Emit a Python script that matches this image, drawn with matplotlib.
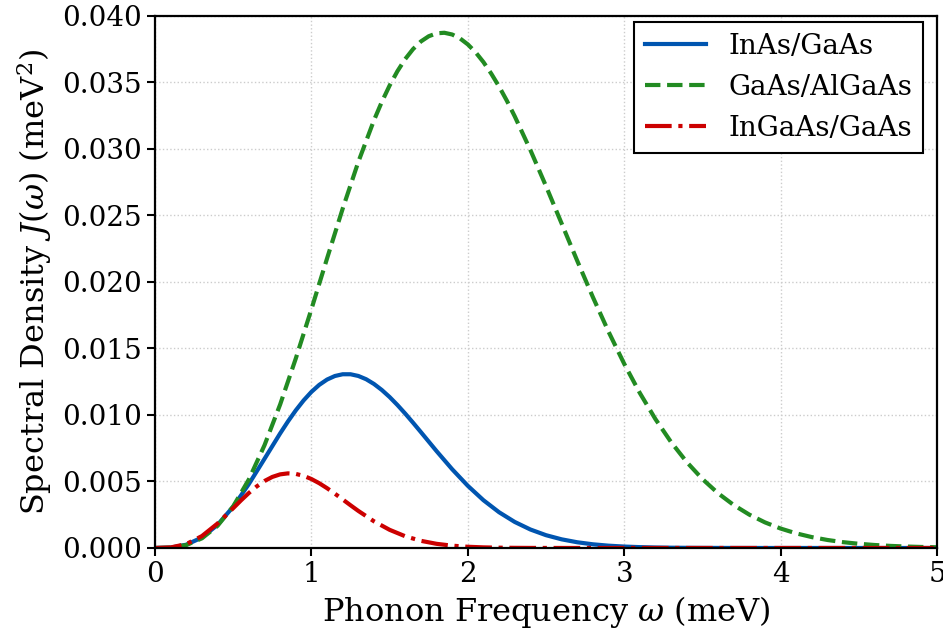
import matplotlib
matplotlib.use("Agg")
import matplotlib.pyplot as plt
from matplotlib.ticker import FormatStrFormatter

plt.rcParams['font.family'] = 'DejaVu Serif'
plt.rcParams['mathtext.fontset'] = 'dejavuserif'

# phonon frequency grid (meV), read every 0.1 meV
omega = [i / 10 for i in range(51)]

# spectral densities J(omega) in meV^2
j_inas = [
    0.0, 0.00003, 0.000245, 0.000787, 0.00174, 0.003105, 0.004807, 0.006703,
    0.008612, 0.010345, 0.011735, 0.012661, 0.01306, 0.012932, 0.01233,
    0.011348, 0.0101, 0.008711, 0.007285, 0.005919, 0.004674, 0.003591,
    0.002686, 0.001957, 0.00139, 0.000962, 0.00065, 0.000429, 0.000276,
    0.000173, 0.000106, 0.000064, 0.000037, 0.000021, 0.000012, 0.000007,
    0.000004, 0.000002, 0.000001, 0.0, 0.0, 0.0, 0.0, 0.0, 0.0, 0.0, 0.0,
    0.0, 0.0, 0.0, 0.0,
]
j_gaas = [
    0.0, 0.000028, 0.00022, 0.000726, 0.001669, 0.003132, 0.005154, 0.007725,
    0.010787, 0.014241, 0.017953, 0.021766, 0.025512, 0.029027, 0.032154,
    0.034765, 0.03676, 0.038078, 0.03869, 0.038602, 0.037858, 0.036526,
    0.034689, 0.032453, 0.029921, 0.027204, 0.024393, 0.021582, 0.018852,
    0.016258, 0.013847, 0.01165, 0.009684, 0.007956, 0.006461, 0.005186,
    0.004116, 0.003231, 0.002507, 0.001925, 0.001462, 0.001098, 0.000817,
    0.000601, 0.000436, 0.000315, 0.000225, 0.000158, 0.000111, 0.000076,
    0.000052,
]
j_ingaas = [
    0.0, 0.000039, 0.000294, 0.000897, 0.001842, 0.002994, 0.004134, 0.005035,
    0.005534, 0.005569, 0.005183, 0.004495, 0.003649, 0.002786, 0.002005,
    0.001365, 0.00088, 0.000538, 0.000313, 0.000173, 0.000091, 0.000046,
    0.000022, 0.00001, 0.000004, 0.000002, 0.000001, 0.0, 0.0, 0.0, 0.0,
    0.0, 0.0, 0.0, 0.0, 0.0, 0.0, 0.0, 0.0, 0.0, 0.0, 0.0, 0.0, 0.0, 0.0,
    0.0, 0.0, 0.0, 0.0, 0.0, 0.0,
]

# extra readings around each peak, halfway between grid points
omega_inas_peak = [0.85, 0.95, 1.05, 1.15, 1.25, 1.35, 1.45, 1.55, 1.65]
j_inas_peak = [0.009512, 0.011092, 0.012262, 0.012928, 0.01306, 0.012686,
               0.011879, 0.010748, 0.009416]
omega_gaas_peak = [1.45, 1.55, 1.65, 1.75, 1.85, 1.95, 2.05, 2.15, 2.25]
j_gaas_peak = [0.033532, 0.035843, 0.037507, 0.03847, 0.038732, 0.038309,
               0.037262, 0.035658, 0.033616]
omega_ingaas_peak = [0.55, 0.65, 0.75, 0.85, 0.95, 1.05, 1.15, 1.25]
j_ingaas_peak = [0.003581, 0.004626, 0.005341, 0.005609, 0.005423, 0.004868,
                 0.004083, 0.003212]

labels = ['InAs/GaAs', 'GaAs/AlGaAs', 'InGaAs/GaAs']
colors = ['#0055B0', '#228B22', '#CC0000']
styles = ['-', '--', '-.']

series = [
    (j_inas, omega_inas_peak, j_inas_peak),
    (j_gaas, omega_gaas_peak, j_gaas_peak),
    (j_ingaas, omega_ingaas_peak, j_ingaas_peak),
]

fig, ax = plt.subplots(figsize=(9.43, 6.36), dpi=100)
fig.subplots_adjust(left=0.1644, right=0.9936, top=0.975, bottom=0.1384)

for (ys, xp, yp), lab, c, ls in zip(series, labels, colors, styles):
    pts = sorted(zip(omega + xp, ys + yp))
    ax.plot([p[0] for p in pts], [p[1] for p in pts], color=c, linestyle=ls,
            linewidth=3, label=lab)

ax.set_xlim(0, 5)
ax.set_ylim(0, 0.040)
ax.set_yticks([0.000, 0.005, 0.010, 0.015, 0.020, 0.025, 0.030, 0.035, 0.040])
ax.yaxis.set_major_formatter(FormatStrFormatter('%.3f'))

ax.set_xlabel(r"Phonon Frequency $\omega$ (meV)", fontsize=23)
ax.set_ylabel(r"Spectral Density $J(\omega)$ (meV$^2$)", fontsize=23,
              labelpad=6)
ax.tick_params(labelsize=20, width=1.5, length=6)
for s in ax.spines.values():
    s.set_linewidth(1.6)

ax.grid(True, linestyle=':', color='#cccccc', linewidth=1)

leg = ax.legend(loc='upper right', bbox_to_anchor=(1.0, 1.015), fontsize=20,
                fancybox=False, framealpha=1, edgecolor='black',
                handlelength=2.2)
leg.get_frame().set_linewidth(1.5)

fig.savefig('out.png', dpi=100)
